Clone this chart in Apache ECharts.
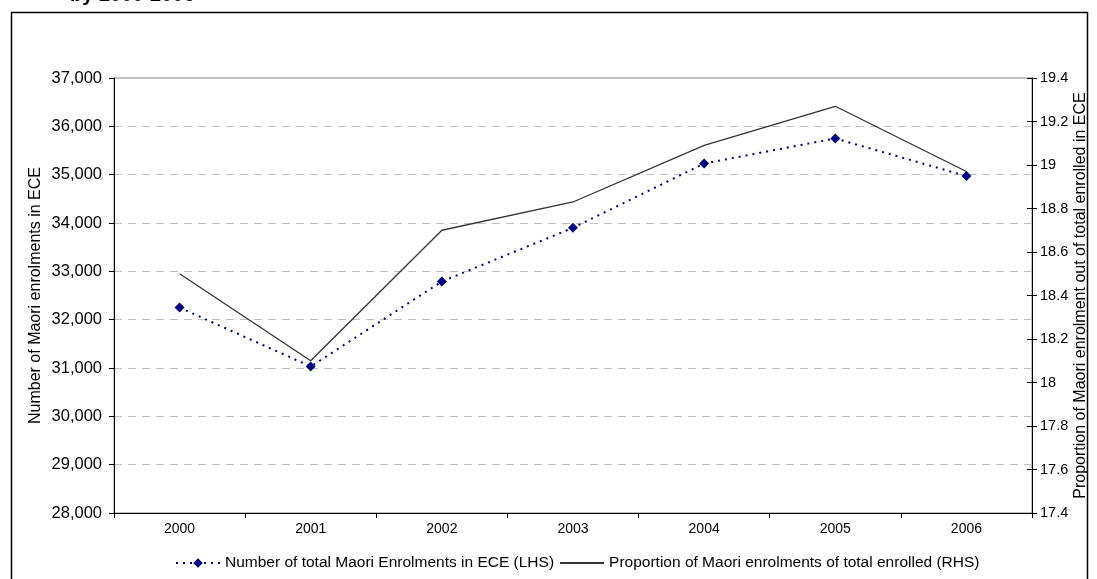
<!DOCTYPE html>
<html><head><meta charset="utf-8">
<script src="https://cdn.jsdelivr.net/npm/echarts@6/dist/echarts.min.js"></script>
<style>html,body{margin:0;padding:0;background:#fff;overflow:hidden}#c{width:1097px;height:579px}</style>
</head><body><div id="c"></div>
<script>
const years = ['2000', '2001', '2002', '2003', '2004', '2005', '2006'];
const enrolments = [32250, 31030, 32790, 33900, 35230, 35750, 34970];
const proportion = [18.50, 18.10, 18.70, 18.83, 19.09, 19.27, 18.97];
const leftAxis = { min: 28000, max: 37000, interval: 1000 };
const rightAxis = { min: 17.4, max: 19.4, interval: 0.2 };
const seriesNames = ['Number of total Maori Enrolments in ECE (LHS)', 'Proportion of Maori enrolments of total enrolled (RHS)'];
const axisTitles = ['Number of Maori enrolments in ECE', 'Proportion of Maori enrolment out of total enrolled in ECE'];
const titleText = 'by 2000-2006';

const FONT = "'Liberation Sans', Arial, sans-serif";
const chart = echarts.init(document.getElementById('c'), null, { renderer: 'canvas' });
const fmtLeft = v => v.toLocaleString('en-US');
const fmtRight = v => String(Number(v.toFixed(1)));

chart.setOption({
  animation: false,
  backgroundColor: '#fff',
  textStyle: { fontFamily: FONT, color: '#000' },
  grid: { left: 114, right: 65, top: 78, bottom: 66, show: true, borderColor: '#808080', borderWidth: 1, containLabel: false, outerBoundsMode: 'none' },
  graphic: [
    { type: 'rect', shape: { x: 11.5, y: 12.5, width: 1076, height: 600 }, style: { fill: 'none', stroke: '#000', lineWidth: 1.5 }, silent: true },
    { type: 'text', left: 70, top: -15, style: { text: titleText, font: 'bold 20px ' + FONT, fill: '#000' } }
  ],
  legend: {
    left: 170, top: 550, itemWidth: 44, itemHeight: 12, itemGap: 5,
    textStyle: { fontSize: 15.5, fontFamily: FONT, color: '#000' },
    data: [
      { name: seriesNames[0] },
      { name: seriesNames[1], itemStyle: { opacity: 0 } }
    ]
  },
  xAxis: {
    type: 'category', data: years, boundaryGap: true,
    axisLine: { lineStyle: { color: '#000', width: 1 } },
    axisTick: { show: true, length: 5, lineStyle: { color: '#000' } },
    axisLabel: { fontSize: 14, color: '#000', margin: 9, fontFamily: FONT }
  },
  yAxis: [
    {
      type: 'value', position: 'left', min: leftAxis.min, max: leftAxis.max, interval: leftAxis.interval,
      name: axisTitles[0], nameLocation: 'middle', nameGap: 70, nameRotate: 90, nameMoveOverlap: false,
      nameTextStyle: { fontSize: 16, color: '#000', fontFamily: FONT },
      axisLine: { show: true, lineStyle: { color: '#000' } },
      axisTick: { show: true, length: 5, lineStyle: { color: '#000' } },
      axisLabel: { fontSize: 16.5, color: '#000', formatter: fmtLeft, margin: 12, fontFamily: FONT },
      splitLine: { show: true, lineStyle: { color: '#c0c0c0', type: [8, 6], width: 1 } }
    },
    {
      type: 'value', position: 'right', min: rightAxis.min, max: rightAxis.max, interval: rightAxis.interval,
      name: axisTitles[1], nameLocation: 'middle', nameGap: 41, nameRotate: 90, nameMoveOverlap: false,
      nameTextStyle: { fontSize: 16, color: '#000', fontFamily: FONT },
      axisLine: { show: true, lineStyle: { color: '#000' } },
      axisTick: { show: true, length: 5, lineStyle: { color: '#000' } },
      axisLabel: { fontSize: 14.5, color: '#000', formatter: fmtRight, margin: 8, fontFamily: FONT },
      splitLine: { show: false }
    },
    {
      type: 'value', position: 'right', min: rightAxis.min, max: rightAxis.max, interval: rightAxis.interval,
      axisLine: { show: false },
      axisTick: { show: true, inside: true, length: 5, lineStyle: { color: '#000' } },
      axisLabel: { show: false },
      splitLine: { show: false }
    }
  ],
  series: [
    {
      name: seriesNames[0], type: 'line', yAxisIndex: 0, data: enrolments,
      symbol: 'diamond', symbolSize: 10, showSymbol: true,
      itemStyle: { color: '#000080' },
      lineStyle: { color: '#000080', width: 2, type: [2, 5] }
    },
    {
      name: seriesNames[1], type: 'line', yAxisIndex: 1, data: proportion,
      symbol: 'none',
      itemStyle: { color: '#333333' },
      lineStyle: { color: '#333333', width: 1.3, type: 'solid' }
    }
  ]
});
</script>
</body></html>
